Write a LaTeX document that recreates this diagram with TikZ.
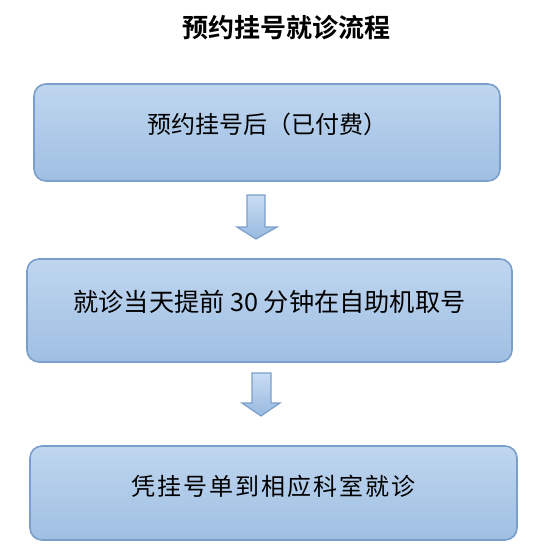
\documentclass[tikz,border=0pt]{standalone}
\usepackage{fontspec}
\newfontfamily\cjk{Noto Sans CJK SC}
\newfontfamily\cjkb{Noto Sans CJK SC Bold}
\definecolor{boxtop}{HTML}{BFD6EF}
\definecolor{boxbot}{HTML}{9FBFE3}
\definecolor{boxline}{HTML}{7B9FCB}
\definecolor{arrtop}{HTML}{C9DDF3}
\definecolor{arrbot}{HTML}{98B9DF}
\newcommand{\gp}{\hspace{2pt}}
\tikzset{
  stepbox/.style={draw=boxline, line width=1.6pt, rounded corners=12pt,
    top color=boxtop, bottom color=boxbot, inner sep=0pt, font=\cjk},
  blockarrow/.style={draw=boxline, line width=1.2pt, line join=miter,
    top color=arrtop, bottom color=arrbot},
  titlestyle/.style={font=\cjkb\fontsize{26}{30}\selectfont, inner sep=0pt}
}
\begin{document}
\begin{tikzpicture}[x=1pt,y=-1pt]
\useasboundingbox (0,0) rectangle (543,560);
\node[titlestyle] (title) at (286,28) {预约挂号就诊流程};
\node[stepbox, minimum width=466pt, minimum height=97pt] (b1) at (267,132.5)
  {\raisebox{18pt}{\fontsize{24}{28}\selectfont 预约挂号后（已付费）}};
\node[stepbox, minimum width=485pt, minimum height=103pt] (b2) at (269.5,310.5)
  {\raisebox{20pt}{\fontsize{25.2}{29}\selectfont 就诊当天提前 30 分钟在自助机取号}};
\node[stepbox, minimum width=487pt, minimum height=94pt] (b3) at (273.5,493)
  {\raisebox{16pt}{\fontsize{24}{28}\selectfont 凭\gp 挂\gp 号\gp 单\gp 到\gp 相\gp 应\gp 科\gp 室\gp 就\gp 诊}};
% block arrows
\path[blockarrow] (247,195) -- (265,195) -- (265,227) -- (277,227) -- (256,239)
  -- (237,227) -- (247,227) -- cycle;
\path[blockarrow] (252,373) -- (271,373) -- (271,403) -- (280,403) -- (261,416)
  -- (242,403) -- (252,403) -- cycle;
\end{tikzpicture}
\end{document}
